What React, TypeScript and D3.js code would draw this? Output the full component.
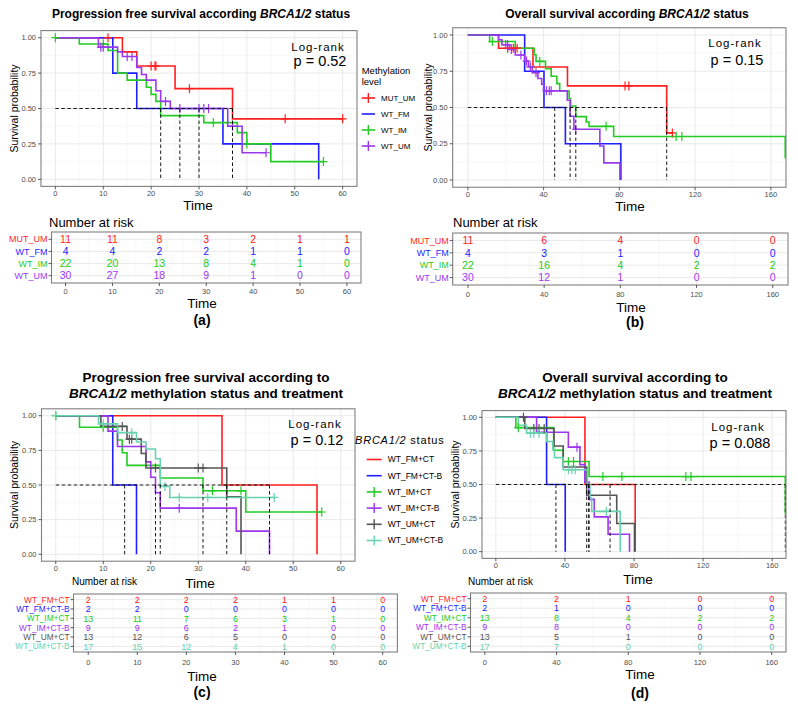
import React from 'react';
import * as d3 from 'd3';

type Step = [number, number];

// ---------- (a) progression free survival by methylation level ----------
const methGroups = ['MUT_UM', 'WT_FM', 'WT_IM', 'WT_UM'];
const pfsMutUm: Step[] = [[14, 0.9], [17, 0.8], [25, 0.64], [37, 0.427]];
const pfsMutUmCens = [11, 20, 20.8, 21, 28, 48, 60];
const pfsWtFm: Step[] = [[12, 0.75], [17, 0.5], [35, 0.25], [55, 0]];
const pfsWtFmCens: number[] = [];
const pfsWtIm: Step[] = [[5, 0.955], [11, 0.91], [13, 0.75], [15, 0.7], [19, 0.65], [20, 0.6], [21, 0.55], [22, 0.45], [31, 0.4], [38, 0.33], [40, 0.25], [45, 0.125]];
const pfsWtImCens = [0, 10, 33, 40, 56];
const pfsWtUm: Step[] = [[9, 0.933], [13, 0.9], [14, 0.867], [17, 0.79], [18, 0.74], [19, 0.7], [21, 0.625], [22, 0.55], [24, 0.5], [36, 0.375], [39, 0.1875]];
const pfsWtUmCens = [9.5, 10, 15, 16, 23, 26, 30, 31, 32, 37, 44];

// ---------- (b) overall survival by methylation level ----------
const osMutUm: Step[] = [[16.2, 0.909], [34.4, 0.779], [52.6, 0.649], [105, 0.325]];
const osMutUmCens = [21, 24, 26, 83, 85, 108];
const osWtFm: Step[] = [[30, 0.75], [40.2, 0.5], [51.5, 0.25], [80.8, 0]];
const osWtFmCens: number[] = [];
const osWtIm: Step[] = [[11.5, 0.955], [25, 0.909], [35, 0.864], [36, 0.818], [41, 0.767], [44, 0.716], [47, 0.665], [48.5, 0.614], [53.5, 0.562], [54.3, 0.51], [57, 0.437], [62.5, 0.4], [64, 0.37], [77, 0.3], [167.6, 0.15]];
const osWtImCens = [13, 38, 73, 110, 113];
const osWtUm: Step[] = [[16.2, 0.967], [18, 0.933], [22, 0.9], [25, 0.862], [30, 0.82], [32, 0.78], [34, 0.74], [37, 0.7], [39, 0.66], [40, 0.615], [52.5, 0.55], [54, 0.44], [56, 0.35], [69.7, 0.235], [71.8, 0.118], [80.3, 0]];
const osWtUmCens = [20, 21, 23, 28, 31, 33, 36, 41.5, 43, 44, 57];

// ---------- (c) progression free survival by methylation and treatment ----------
const trtGroups = ['WT_FM+CT', 'WT_FM+CT-B', 'WT_IM+CT', 'WT_IM+CT-B', 'WT_UM+CT', 'WT_UM+CT-B'];
const pfsFmCt: Step[] = [[35, 0.5], [55, 0]];
const pfsFmCtCens: number[] = [];
const pfsFmCtB: Step[] = [[12, 0.5], [17, 0]];
const pfsFmCtBCens: number[] = [];
const pfsImCt: Step[] = [[5, 0.917], [13, 0.825], [14, 0.733], [15, 0.642], [22, 0.55], [31, 0.458], [40, 0.305]];
const pfsImCtCens = [0, 10, 33, 39, 56];
const pfsImCtB: Step[] = [[11, 0.889], [13, 0.778], [19, 0.667], [20, 0.556], [21, 0.444], [22, 0.333], [38, 0.167], [45, 0]];
const pfsImCtBCens: number[] = [26];
const pfsUmCt: Step[] = [[9.5, 0.923], [15, 0.831], [18, 0.727], [19, 0.623], [36, 0.415], [39, 0]];
const pfsUmCtCens = [14, 15.5, 16, 21, 30, 31];
const pfsUmCtB: Step[] = [[9, 0.941], [13, 0.878], [17, 0.81], [19, 0.76], [21, 0.69], [22, 0.49], [24, 0.41]];
const pfsUmCtBCens = [0, 10, 16, 23, 26, 32, 46];

// ---------- (d) overall survival by methylation and treatment ----------
const osFmCt: Step[] = [[51.6, 0.5], [80.7, 0]];
const osFmCtCens: number[] = [];
const osFmCtB: Step[] = [[29.4, 0.5], [40.2, 0]];
const osFmCtBCens: number[] = [];
const osImCt: Step[] = [[11.6, 0.923], [33.5, 0.755], [39, 0.671], [54, 0.559], [167.6, 0.28]];
const osImCtCens = [13, 42, 45, 62, 73, 110, 113];
const osImCtB: Step[] = [[23.6, 0.889], [42, 0.778], [48.7, 0.648], [51.5, 0.518], [54, 0.389], [57, 0.259], [65, 0.13], [77.4, 0]];
const osImCtBCens = [47];
const osUmCt: Step[] = [[16.8, 0.917], [33.7, 0.786], [39, 0.63], [52.6, 0.42], [70, 0.21], [80.3, 0]];
const osUmCtCens = [16, 22, 25, 28];
const osUmCtB: Step[] = [[13, 0.941], [17.8, 0.882], [29.4, 0.82], [33, 0.76], [34, 0.7], [39, 0.61], [53, 0.5], [54.5, 0.4], [55.5, 0.3], [72, 0]];
const osUmCtBCens = [20, 22, 25, 42, 44, 46, 64];

// ---------- number at risk ----------
const riskTimesPfs = [0, 10, 20, 30, 40, 50, 60];
const riskTimesOs = [0, 40, 80, 120, 160];
const riskPfsMeth = [[11, 11, 8, 3, 2, 1, 1], [4, 4, 2, 2, 1, 1, 0], [22, 20, 13, 8, 4, 1, 0], [30, 27, 18, 9, 1, 0, 0]];
const riskOsMeth = [[11, 6, 4, 0, 0], [4, 3, 1, 0, 0], [22, 16, 4, 2, 2], [30, 12, 1, 0, 0]];
const riskPfsTrt = [[2, 2, 2, 2, 1, 1, 0], [2, 2, 0, 0, 0, 0, 0], [13, 11, 7, 6, 3, 1, 0], [9, 9, 6, 2, 1, 0, 0], [13, 12, 6, 5, 0, 0, 0], [17, 15, 12, 4, 1, 0, 0]];
const riskOsTrt = [[2, 2, 1, 0, 0], [2, 1, 0, 0, 0], [13, 8, 4, 2, 2], [9, 8, 0, 0, 0], [13, 5, 1, 0, 0], [17, 7, 0, 0, 0]];

const pValues = ['0.52', '0.15', '0.12', '0.088'];

const methColors = ['#FF1F1F', '#1F1FFF', '#22CC22', '#9B38EE'];
const trtColors = ['#FF1F1F', '#1F1FFF', '#22CC22', '#A035F0', '#555555', '#66D3AE'];

const FONT = '"Liberation Sans", Arial, Helvetica, sans-serif';
const AXIS_TEXT = '#4D4D4D';
const GRID_MAJOR = '#E6E6E6';
const GRID_MINOR = '#F4F4F4';
const BORDER = '#808080';

interface Curve { name: string; color: string; steps: Step[]; cens: number[] }
interface Box { left: number; right: number; top: number; bottom: number }

interface PanelSpec {
  id: string;
  xDomain: [number, number];
  xTicks: number[];
  plot: Box;
  table: Box;
  curves: Curve[];
  risk: number[][];
  riskTimes: number[];
  p: string;
  titleLines: React.ReactNode[];
  titleX: number;
  titleY: number[];
  titleSize: number;
  yTitleX: number;
  timeY: number;
  timeX: number;
  logX: number;
  logY: number;
  pY: number;
  nriskX: number;
  nriskY: number;
  nriskSize: number;
  tTickY: number;
  tTimeX: number;
  tTimeY: number;
  tLabelSize: number;
  tValueSize: number;
  letter: string;
  letterX: number;
  letterY: number;
}

const mkCurves = (names: string[], colors: string[], steps: Step[][], cens: number[][]): Curve[] =>
  names.map((name, i) => ({ name, color: colors[i], steps: steps[i], cens: cens[i] }));

function survAt(steps: Step[], t: number) {
  let s = 1;
  for (const [ti, si] of steps) if (ti <= t) s = si;
  return s;
}

// median survival; a plateau sitting exactly on 0.5 gives the midpoint of the plateau
function medianOf(steps: Step[]): number | null {
  for (let i = 0; i < steps.length; i++) {
    const [t, s] = steps[i];
    if (s <= 0.5 + 1e-6) {
      if (Math.abs(s - 0.5) < 0.005 && i + 1 < steps.length) return (t + steps[i + 1][0]) / 2;
      return t;
    }
  }
  return null;
}

const italic = (s: string) => <tspan fontStyle="italic">{s}</tspan>;

const Panel: React.FC<{ s: PanelSpec }> = ({ s }) => {
  const { plot, table } = s;
  const x = d3.scaleLinear().domain(s.xDomain).range([plot.left, plot.right]);
  const y = d3.scaleLinear().domain([-0.05, 1.05]).range([plot.bottom, plot.top]);
  const yTicks = [0, 0.25, 0.5, 0.75, 1];
  const yMinor = d3.pairs(yTicks).map(([a, b]) => (a + b) / 2);
  const xMinor = d3.pairs(s.xTicks).map(([a, b]) => (a + b) / 2);
  const line = d3.line<Step>().x(d => x(d[0])).y(d => y(d[1])).curve(d3.curveStepAfter);
  const clip = `clip-${s.id}`;

  const medians = s.curves.map(c => medianOf(c.steps)).filter((m): m is number => m !== null);
  const maxMed = d3.max(medians) ?? 0;

  const tx = d3.scaleLinear().domain(s.xDomain).range([table.left, table.right]);
  const ty = d3.scalePoint<string>().domain(s.curves.map(c => c.name)).range([table.top, table.bottom]).padding(0.6);

  const plotMidY = (plot.top + plot.bottom) / 2;

  return (
    <g>
      {s.titleLines.map((ln, i) => (
        <text key={i} x={s.titleX} y={s.titleY[i]} textAnchor="middle" fontWeight="bold" fontSize={s.titleSize} fill="#000">{ln}</text>
      ))}

      <defs>
        <clipPath id={clip}>
          <rect x={plot.left} y={plot.top} width={plot.right - plot.left} height={plot.bottom - plot.top} />
        </clipPath>
      </defs>
      <rect x={plot.left} y={plot.top} width={plot.right - plot.left} height={plot.bottom - plot.top} fill="#fff" />
      {xMinor.map(v => <line key={`xm${v}`} x1={x(v)} x2={x(v)} y1={plot.top} y2={plot.bottom} stroke={GRID_MINOR} strokeWidth={0.6} />)}
      {yMinor.map(v => <line key={`ym${v}`} y1={y(v)} y2={y(v)} x1={plot.left} x2={plot.right} stroke={GRID_MINOR} strokeWidth={0.6} />)}
      {s.xTicks.map(v => <line key={`xg${v}`} x1={x(v)} x2={x(v)} y1={plot.top} y2={plot.bottom} stroke={GRID_MAJOR} strokeWidth={0.9} />)}
      {yTicks.map(v => <line key={`yg${v}`} y1={y(v)} y2={y(v)} x1={plot.left} x2={plot.right} stroke={GRID_MAJOR} strokeWidth={0.9} />)}

      <g clipPath={`url(#${clip})`}>
        {s.curves.map(c => {
          const pts: Step[] = [[0, 1], ...c.steps];
          const last = pts[pts.length - 1];
          const end = d3.max(c.cens) ?? 0;
          if (end > last[0]) pts.push([end, last[1]]);
          return <path key={c.name} d={line(pts) ?? ''} fill="none" stroke={c.color} strokeWidth={1.6} />;
        })}
        {s.curves.map(c => c.cens.map((t, i) => {
          const cx = x(t);
          const cy = y(survAt(c.steps, t));
          return (
            <g key={`${c.name}-c${i}`} stroke={c.color} strokeWidth={1.2}>
              <line x1={cx} x2={cx} y1={cy - 4.5} y2={cy + 4.5} />
              <line x1={cx - 4} x2={cx + 4} y1={cy} y2={cy} />
            </g>
          );
        }))}
        <line x1={x(0)} x2={x(maxMed)} y1={y(0.5)} y2={y(0.5)} stroke="#000" strokeWidth={0.9} strokeDasharray="3.5,2.5" />
        {medians.map((m, i) => (
          <line key={`md${i}`} x1={x(m)} x2={x(m)} y1={y(0.5)} y2={y(0)} stroke="#000" strokeWidth={0.9} strokeDasharray="3.5,2.5" />
        ))}
      </g>
      <rect x={plot.left} y={plot.top} width={plot.right - plot.left} height={plot.bottom - plot.top} fill="none" stroke={BORDER} strokeWidth={1.1} />

      {yTicks.map(v => (
        <g key={`yt${v}`}>
          <line x1={plot.left - 3} x2={plot.left} y1={y(v)} y2={y(v)} stroke="#333" strokeWidth={0.8} />
          <text x={plot.left - 5} y={y(v)} dy="0.35em" textAnchor="end" fontSize={7.5} fill={AXIS_TEXT}>{v.toFixed(2)}</text>
        </g>
      ))}
      {s.xTicks.map(v => (
        <g key={`xt${v}`}>
          <line x1={x(v)} x2={x(v)} y1={plot.bottom} y2={plot.bottom + 3} stroke="#333" strokeWidth={0.8} />
          <text x={x(v)} y={plot.bottom + 9.5} textAnchor="middle" fontSize={7.5} fill={AXIS_TEXT}>{v}</text>
        </g>
      ))}
      <text transform={`translate(${s.yTitleX},${plotMidY}) rotate(-90)`} textAnchor="middle" dy="0.35em" fontSize={10.5} fill="#000">Survival probability</text>
      <text x={s.timeX} y={s.timeY} textAnchor="middle" fontSize={13.5} fill="#000">Time</text>

      <text x={s.logX} y={s.logY} textAnchor="middle" fontSize={11.5} letterSpacing={1} fill="#000">Log-rank</text>
      <text x={s.logX + 2} y={s.pY} textAnchor="middle" fontSize={14.5} fill="#000">{`p = ${s.p}`}</text>

      {/* number at risk table */}
      <text x={s.nriskX} y={s.nriskY} fontSize={s.nriskSize} fill="#000">Number at risk</text>
      <rect x={table.left} y={table.top} width={table.right - table.left} height={table.bottom - table.top} fill="#fff" />
      {xMinor.map(v => <line key={`txm${v}`} x1={tx(v)} x2={tx(v)} y1={table.top} y2={table.bottom} stroke={GRID_MINOR} strokeWidth={0.6} />)}
      {s.xTicks.map(v => <line key={`txg${v}`} x1={tx(v)} x2={tx(v)} y1={table.top} y2={table.bottom} stroke={GRID_MAJOR} strokeWidth={0.9} />)}
      {s.curves.map(c => <line key={`tyg${c.name}`} x1={table.left} x2={table.right} y1={ty(c.name)} y2={ty(c.name)} stroke={GRID_MAJOR} strokeWidth={0.9} />)}
      <rect x={table.left} y={table.top} width={table.right - table.left} height={table.bottom - table.top} fill="none" stroke={BORDER} strokeWidth={1.1} />
      {s.curves.map((c, i) => (
        <g key={`row${c.name}`}>
          <line x1={table.left - 3} x2={table.left} y1={ty(c.name)} y2={ty(c.name)} stroke="#333" strokeWidth={0.8} />
          <text x={table.left - 4} y={ty(c.name)} dy="0.35em" textAnchor="end" fontSize={s.tLabelSize} fill={c.color}>{c.name}</text>
          {s.riskTimes.map((t, j) => (
            <text key={t} x={tx(t)} y={ty(c.name)} dy="0.36em" textAnchor="middle" fontSize={s.tValueSize} fill={c.color}>{s.risk[i][j]}</text>
          ))}
        </g>
      ))}
      {s.xTicks.map(v => (
        <g key={`ttx${v}`}>
          <line x1={tx(v)} x2={tx(v)} y1={table.bottom} y2={table.bottom + 3} stroke="#333" strokeWidth={0.8} />
          <text x={tx(v)} y={s.tTickY} textAnchor="middle" fontSize={7.5} fill={AXIS_TEXT}>{v}</text>
        </g>
      ))}
      <text x={s.tTimeX} y={s.tTimeY} textAnchor="middle" fontSize={13.5} fill="#000">Time</text>
      <text x={s.letterX} y={s.letterY} textAnchor="middle" fontSize={14} fontWeight="bold" fill="#000">{s.letter}</text>
    </g>
  );
};

interface LegendProps {
  x: number;
  titleX: number;
  titleLines: React.ReactNode[];
  titleY: number[];
  titleSize: number;
  curves: Curve[];
  y0: number;
  dy: number;
  keyW: number;
  textSize: number;
}

const Legend: React.FC<LegendProps> = ({ x, titleX, titleLines, titleY, titleSize, curves, y0, dy, keyW, textSize }) => (
  <g>
    {titleLines.map((t, i) => <text key={i} x={titleX} y={titleY[i]} fontSize={titleSize} fill="#000">{t}</text>)}
    {curves.map((c, i) => {
      const cy = y0 + i * dy;
      const kx = x + keyW / 2;
      return (
        <g key={c.name}>
          <line x1={x} x2={x + keyW} y1={cy} y2={cy} stroke={c.color} strokeWidth={1.6} />
          {c.cens.length > 0 && <line x1={kx} x2={kx} y1={cy - 5} y2={cy + 5} stroke={c.color} strokeWidth={1.4} />}
          <text x={x + keyW + 6} y={cy} dy="0.35em" fontSize={textSize} fill="#000">{c.name}</text>
        </g>
      );
    })}
  </g>
);

const curvesA = mkCurves(methGroups, methColors, [pfsMutUm, pfsWtFm, pfsWtIm, pfsWtUm], [pfsMutUmCens, pfsWtFmCens, pfsWtImCens, pfsWtUmCens]);
const curvesB = mkCurves(methGroups, methColors, [osMutUm, osWtFm, osWtIm, osWtUm], [osMutUmCens, osWtFmCens, osWtImCens, osWtUmCens]);
const curvesC = mkCurves(trtGroups, trtColors, [pfsFmCt, pfsFmCtB, pfsImCt, pfsImCtB, pfsUmCt, pfsUmCtB], [pfsFmCtCens, pfsFmCtBCens, pfsImCtCens, pfsImCtBCens, pfsUmCtCens, pfsUmCtBCens]);
const curvesD = mkCurves(trtGroups, trtColors, [osFmCt, osFmCtB, osImCt, osImCtB, osUmCt, osUmCtB], [osFmCtCens, osFmCtBCens, osImCtCens, osImCtBCens, osUmCtCens, osUmCtBCens]);

const pfsTicks = [0, 10, 20, 30, 40, 50, 60];
const osTicks = [0, 40, 80, 120, 160];

const panels: PanelSpec[] = [
  {
    id: 'a', xDomain: [-3, 63], xTicks: pfsTicks,
    plot: { left: 41, right: 357, top: 30.6, bottom: 186.4 },
    table: { left: 51.5, right: 361, top: 232, bottom: 283 },
    curves: curvesA, risk: riskPfsMeth, riskTimes: riskTimesPfs, p: pValues[0],
    titleLines: [<>Progression free survival according {italic('BRCA1/2')} status</>],
    titleX: 201, titleY: [18], titleSize: 12,
    yTitleX: 14.5, timeX: 198, timeY: 209.5,
    logX: 318, logY: 51, pY: 66,
    nriskX: 49, nriskY: 227, nriskSize: 13,
    tTickY: 294, tTimeX: 202, tTimeY: 308, tLabelSize: 9, tValueSize: 10.5,
    letter: '(a)', letterX: 202, letterY: 325,
  },
  {
    id: 'b', xDomain: [-8, 168], xTicks: osTicks,
    plot: { left: 452.7, right: 786, top: 27.75, bottom: 187.25 },
    table: { left: 452.7, right: 788, top: 233, bottom: 285 },
    curves: curvesB, risk: riskOsMeth, riskTimes: riskTimesOs, p: pValues[1],
    titleLines: [<>Overall survival according {italic('BRCA1/2')} status</>],
    titleX: 627, titleY: [18], titleSize: 12,
    yTitleX: 428, timeX: 630, timeY: 210.5,
    logX: 735, logY: 47, pY: 65,
    nriskX: 453, nriskY: 227, nriskSize: 13,
    tTickY: 297, tTimeX: 631, tTimeY: 312, tLabelSize: 9, tValueSize: 10.5,
    letter: '(b)', letterX: 635, letterY: 327,
  },
  {
    id: 'c', xDomain: [-3, 63], xTicks: pfsTicks,
    plot: { left: 41.5, right: 355, top: 408.8, bottom: 561.2 },
    table: { left: 73.5, right: 397.4, top: 594, bottom: 652 },
    curves: curvesC, risk: riskPfsTrt, riskTimes: riskTimesPfs, p: pValues[2],
    titleLines: [<>Progression free survival according to</>, <>{italic('BRCA1/2')} methylation status and treatment</>],
    titleX: 206, titleY: [382, 398], titleSize: 13.5,
    yTitleX: 14.5, timeX: 200, timeY: 587.5,
    logX: 315, logY: 428, pY: 445,
    nriskX: 72, nriskY: 585, nriskSize: 10,
    tTickY: 665, tTimeX: 202, tTimeY: 681, tLabelSize: 8.3, tValueSize: 9,
    letter: '(c)', letterX: 202, letterY: 697,
  },
  {
    id: 'd', xDomain: [-8, 168], xTicks: osTicks,
    plot: { left: 482, right: 786, top: 410.6, bottom: 558.4 },
    table: { left: 470.5, right: 786, top: 593, bottom: 652 },
    curves: curvesD, risk: riskOsTrt, riskTimes: riskTimesOs, p: pValues[3],
    titleLines: [<>Overall survival according to</>, <>{italic('BRCA1/2')} methylation status and treatment</>],
    titleX: 635, titleY: [382, 398], titleSize: 13.5,
    yTitleX: 455, timeX: 638, timeY: 583.5,
    logX: 738, logY: 431, pY: 448,
    nriskX: 468, nriskY: 585, nriskSize: 10,
    tTickY: 665, tTimeX: 640, tTimeY: 679, tLabelSize: 8.3, tValueSize: 9,
    letter: '(d)', letterX: 640, letterY: 698,
  },
];

const App: React.FC = () => (
  <svg width={798} height={708} viewBox="0 0 798 708"
    style={{ position: 'absolute', left: 0, top: 0, display: 'block', fontFamily: FONT }}>
    <rect width={798} height={708} fill="#fff" />
    {panels.map(p => <Panel key={p.id} s={p} />)}
    <Legend x={361.7} titleX={361.7} titleLines={['Methylation', 'level']} titleY={[73.5, 84.5]} titleSize={9.5}
      curves={curvesA} y0={98} dy={16} keyW={13.3} textSize={8} />
    <Legend x={366.7} titleX={355} titleLines={[<tspan letterSpacing={0.8}>{italic('BRCA1/2')} status</tspan>]} titleY={[444]} titleSize={11}
      curves={curvesC} y0={459.5} dy={16.2} keyW={15} textSize={8.5} />
  </svg>
);

export default App;
